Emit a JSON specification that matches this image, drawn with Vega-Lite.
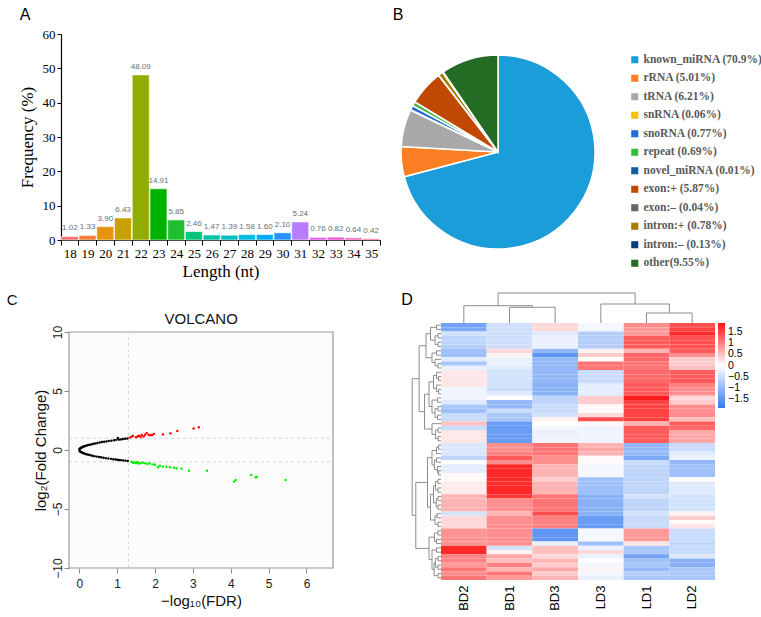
{
  "$schema": "https://vega.github.io/schema/vega-lite/v6.json",
  "width": 761,
  "height": 617,
  "autosize": "none",
  "padding": 0,
  "background": "white",
  "config": {"view": {"stroke": null}, "axis": {"grid": false, "labelFlush": false}},
  "datasets": {
    "lengths": [
      {"len": "18", "freq": 1.02}, {"len": "19", "freq": 1.33}, {"len": "20", "freq": 3.90},
      {"len": "21", "freq": 6.43}, {"len": "22", "freq": 48.09}, {"len": "23", "freq": 14.91},
      {"len": "24", "freq": 5.85}, {"len": "25", "freq": 2.46}, {"len": "26", "freq": 1.47},
      {"len": "27", "freq": 1.39}, {"len": "28", "freq": 1.58}, {"len": "29", "freq": 1.60},
      {"len": "30", "freq": 2.10}, {"len": "31", "freq": 5.24}, {"len": "32", "freq": 0.76},
      {"len": "33", "freq": 0.82}, {"len": "34", "freq": 0.64}, {"len": "35", "freq": 0.42}
    ],
    "volcano": [
      {"fdr": 0.005, "lfc": 0.06, "g": "n"}, {"fdr": 0.02, "lfc": 0.12, "g": "n"}, {"fdr": 0.04, "lfc": 0.17, "g": "n"},
      {"fdr": 0.06, "lfc": 0.21, "g": "n"}, {"fdr": 0.08, "lfc": 0.24, "g": "n"}, {"fdr": 0.1, "lfc": 0.27, "g": "n"},
      {"fdr": 0.13, "lfc": 0.31, "g": "n"}, {"fdr": 0.16, "lfc": 0.34, "g": "n"}, {"fdr": 0.2, "lfc": 0.38, "g": "n"},
      {"fdr": 0.24, "lfc": 0.42, "g": "n"}, {"fdr": 0.28, "lfc": 0.45, "g": "n"}, {"fdr": 0.33, "lfc": 0.49, "g": "n"},
      {"fdr": 0.38, "lfc": 0.53, "g": "n"}, {"fdr": 0.43, "lfc": 0.56, "g": "n"}, {"fdr": 0.48, "lfc": 0.6, "g": "n"},
      {"fdr": 0.54, "lfc": 0.63, "g": "n"}, {"fdr": 0.6, "lfc": 0.67, "g": "n"}, {"fdr": 0.66, "lfc": 0.7, "g": "n"},
      {"fdr": 0.72, "lfc": 0.73, "g": "n"}, {"fdr": 0.78, "lfc": 0.76, "g": "n"}, {"fdr": 0.85, "lfc": 0.79, "g": "n"},
      {"fdr": 0.92, "lfc": 0.83, "g": "n"}, {"fdr": 0.98, "lfc": 0.86, "g": "n"}, {"fdr": 1.02, "lfc": 1.02, "g": "n"},
      {"fdr": 1.05, "lfc": 0.88, "g": "n"}, {"fdr": 1.1, "lfc": 0.9, "g": "n"}, {"fdr": 1.15, "lfc": 0.93, "g": "n"},
      {"fdr": 1.21, "lfc": 0.95, "g": "n"}, {"fdr": 1.27, "lfc": 0.98, "g": "n"},
      {"fdr": 0.01, "lfc": -0.08, "g": "n"}, {"fdr": 0.03, "lfc": -0.14, "g": "n"}, {"fdr": 0.05, "lfc": -0.18, "g": "n"},
      {"fdr": 0.07, "lfc": -0.22, "g": "n"}, {"fdr": 0.1, "lfc": -0.26, "g": "n"}, {"fdr": 0.13, "lfc": -0.3, "g": "n"},
      {"fdr": 0.17, "lfc": -0.34, "g": "n"}, {"fdr": 0.21, "lfc": -0.38, "g": "n"}, {"fdr": 0.25, "lfc": -0.41, "g": "n"},
      {"fdr": 0.3, "lfc": -0.45, "g": "n"}, {"fdr": 0.35, "lfc": -0.49, "g": "n"}, {"fdr": 0.4, "lfc": -0.52, "g": "n"},
      {"fdr": 0.46, "lfc": -0.56, "g": "n"}, {"fdr": 0.52, "lfc": -0.59, "g": "n"}, {"fdr": 0.58, "lfc": -0.62, "g": "n"},
      {"fdr": 0.64, "lfc": -0.66, "g": "n"}, {"fdr": 0.7, "lfc": -0.69, "g": "n"}, {"fdr": 0.77, "lfc": -0.72, "g": "n"},
      {"fdr": 0.84, "lfc": -0.75, "g": "n"}, {"fdr": 0.9, "lfc": -0.78, "g": "n"}, {"fdr": 0.96, "lfc": -0.8, "g": "n"},
      {"fdr": 1.0, "lfc": -0.82, "g": "n"}, {"fdr": 1.05, "lfc": -0.84, "g": "n"}, {"fdr": 1.1, "lfc": -0.86, "g": "n"},
      {"fdr": 1.16, "lfc": -0.88, "g": "n"}, {"fdr": 1.22, "lfc": -0.9, "g": "n"}, {"fdr": 1.28, "lfc": -0.93, "g": "n"},
      {"fdr": 1.33, "lfc": 1.05, "g": "u"}, {"fdr": 1.38, "lfc": 1.12, "g": "u"}, {"fdr": 1.42, "lfc": 1.18, "g": "u"},
      {"fdr": 1.5, "lfc": 1.08, "g": "u"}, {"fdr": 1.55, "lfc": 1.16, "g": "u"}, {"fdr": 1.58, "lfc": 1.22, "g": "u"},
      {"fdr": 1.62, "lfc": 1.1, "g": "u"}, {"fdr": 1.65, "lfc": 1.27, "g": "u"}, {"fdr": 1.7, "lfc": 1.15, "g": "u"},
      {"fdr": 1.74, "lfc": 1.3, "g": "u"}, {"fdr": 1.78, "lfc": 1.45, "g": "u"}, {"fdr": 1.83, "lfc": 1.3, "g": "u"},
      {"fdr": 1.88, "lfc": 1.24, "g": "u"}, {"fdr": 1.92, "lfc": 1.28, "g": "u"}, {"fdr": 1.97, "lfc": 1.36, "g": "u"},
      {"fdr": 2.21, "lfc": 1.32, "g": "u"}, {"fdr": 2.41, "lfc": 1.41, "g": "u"}, {"fdr": 2.59, "lfc": 1.61, "g": "u"},
      {"fdr": 3.02, "lfc": 1.83, "g": "u"}, {"fdr": 3.16, "lfc": 1.92, "g": "u"},
      {"fdr": 1.38, "lfc": -1.0, "g": "d"}, {"fdr": 1.42, "lfc": -1.08, "g": "d"}, {"fdr": 1.46, "lfc": -1.05, "g": "d"},
      {"fdr": 1.5, "lfc": -1.12, "g": "d"}, {"fdr": 1.54, "lfc": -1.02, "g": "d"}, {"fdr": 1.58, "lfc": -1.15, "g": "d"},
      {"fdr": 1.62, "lfc": -1.1, "g": "d"}, {"fdr": 1.68, "lfc": -1.07, "g": "d"}, {"fdr": 1.74, "lfc": -1.13, "g": "d"},
      {"fdr": 1.8, "lfc": -1.18, "g": "d"}, {"fdr": 1.86, "lfc": -1.12, "g": "d"}, {"fdr": 1.94, "lfc": -1.22, "g": "d"},
      {"fdr": 2.0, "lfc": -1.25, "g": "d"}, {"fdr": 2.08, "lfc": -1.46, "g": "d"}, {"fdr": 2.13, "lfc": -1.33, "g": "d"},
      {"fdr": 2.21, "lfc": -1.41, "g": "d"}, {"fdr": 2.3, "lfc": -1.42, "g": "d"}, {"fdr": 2.39, "lfc": -1.46, "g": "d"},
      {"fdr": 2.5, "lfc": -1.5, "g": "d"}, {"fdr": 2.57, "lfc": -1.55, "g": "d"}, {"fdr": 2.7, "lfc": -1.58, "g": "d"},
      {"fdr": 2.9, "lfc": -1.75, "g": "d"}, {"fdr": 3.37, "lfc": -1.75, "g": "d"}, {"fdr": 4.09, "lfc": -2.68, "g": "d"},
      {"fdr": 4.13, "lfc": -2.54, "g": "d"}, {"fdr": 4.54, "lfc": -2.11, "g": "d"}, {"fdr": 4.66, "lfc": -2.31, "g": "d"},
      {"fdr": 4.69, "lfc": -2.28, "g": "d"}, {"fdr": 5.45, "lfc": -2.54, "g": "d"}
    ]
  },
  "resolve": {
    "scale": {"x": "independent", "y": "independent", "color": "independent", "theta": "independent"},
    "axis": {"x": "independent", "y": "independent"},
    "legend": {"color": "independent"}
  },
  "layer": [
    {
      "data": {"name": "lengths"},
      "mark": {"type": "bar", "stroke": "white", "strokeWidth": 0.6},
      "encoding": {
        "x": {
          "field": "len", "type": "ordinal",
          "scale": {"range": [61, 380], "paddingInner": 0.04, "paddingOuter": 0.02},
          "axis": {
            "orient": "bottom", "offset": -377, "title": "Length (nt)", "labelAngle": 0,
            "tickBand": "extent", "tickSize": 5, "tickColor": "black", "domainColor": "black", "domainWidth": 1.2,
            "labelFont": "Liberation Serif", "labelFontSize": 13, "labelColor": "black", "labelPadding": 2,
            "titleFont": "Liberation Serif", "titleFontSize": 17, "titleFontWeight": "normal", "titleColor": "black", "titlePadding": 3
          }
        },
        "y": {
          "field": "freq", "type": "quantitative",
          "scale": {"domain": [0, 60], "range": [240, 34], "nice": false},
          "axis": {
            "orient": "left", "offset": -61, "values": [0, 10, 20, 30, 40, 50, 60], "title": "Frequency (%)",
            "tickSize": 4, "tickColor": "black", "domainColor": "black", "domainWidth": 1.2,
            "labelFont": "Liberation Serif", "labelFontSize": 13, "labelColor": "black", "labelPadding": 2,
            "titleFont": "Liberation Serif", "titleFontSize": 17, "titleFontWeight": "normal", "titleColor": "black", "titlePadding": 6
          }
        },
        "color": {
          "field": "len", "type": "nominal", "legend": null,
          "scale": {
            "domain": ["18","19","20","21","22","23","24","25","26","27","28","29","30","31","32","33","34","35"],
            "range": ["#f46f6f","#f07f33","#e8930e","#c6a100","#8fad00","#00b200","#1ebf31","#00c47c","#00c3a2","#00bfc2","#00bbe0","#00aef5","#2590ff","#b87cff","#df58f3","#ef52d8","#f463bb","#ff6d9a"]
          }
        }
      }
    },
    {
      "data": {"name": "lengths"},
      "mark": {"type": "text", "baseline": "bottom", "dy": -4, "font": "Liberation Sans", "fontSize": 8, "color": "#66707a"},
      "encoding": {
        "x": {"field": "len", "type": "ordinal", "axis": null, "scale": {"range": [61, 380], "paddingInner": 0.04, "paddingOuter": 0.02}},
        "y": {"field": "freq", "type": "quantitative", "axis": null, "scale": {"domain": [0, 60], "range": [240, 34], "nice": false}},
        "text": {"field": "freq", "type": "quantitative", "format": ".2f"}
      }
    },
    {
      "data": {"values": [{"p": "A"}]},
      "mark": {"type": "text", "font": "Liberation Sans", "fontSize": 16},
      "encoding": {
        "x": {"datum": -2.03, "type": "quantitative", "axis": null, "scale": {"domain": [0, 18], "range": [61, 380], "nice": false, "zero": false}},
        "y": {"datum": 65.5, "type": "quantitative", "axis": null, "scale": {"domain": [0, 60], "range": [240, 34], "nice": false}},
        "text": {"field": "p"}
      }
    },
    {
      "data": {"values": [
        {"cat": "known_miRNA (70.9%)", "v": 70.9, "i": 1},
        {"cat": "rRNA (5.01%)", "v": 5.01, "i": 2},
        {"cat": "tRNA (6.21%)", "v": 6.21, "i": 3},
        {"cat": "snRNA (0.06%)", "v": 0.06, "i": 4},
        {"cat": "snoRNA (0.77%)", "v": 0.77, "i": 5},
        {"cat": "repeat (0.69%)", "v": 0.69, "i": 6},
        {"cat": "novel_miRNA (0.01%)", "v": 0.01, "i": 7},
        {"cat": "exon:+ (5.87%)", "v": 5.87, "i": 8},
        {"cat": "exon:– (0.04%)", "v": 0.04, "i": 9},
        {"cat": "intron:+ (0.78%)", "v": 0.78, "i": 10},
        {"cat": "intron:– (0.13%)", "v": 0.13, "i": 11},
        {"cat": "other(9.55%)", "v": 9.55, "i": 12}
      ]},
      "mark": {"type": "arc", "outerRadius": 97, "stroke": "white", "strokeWidth": 1.5},
      "encoding": {
        "theta": {"field": "v", "type": "quantitative", "stack": true},
        "order": {"field": "i", "type": "quantitative"},
        "x": {"datum": 0, "type": "quantitative", "scale": {"domain": [-1, 1], "range": [401, 595], "nice": false}, "axis": null},
        "y": {"datum": 0, "type": "quantitative", "scale": {"domain": [-1, 1], "range": [249, 55], "nice": false}, "axis": null},
        "color": {
          "field": "cat", "type": "nominal",
          "scale": {
            "domain": ["known_miRNA (70.9%)","rRNA (5.01%)","tRNA (6.21%)","snRNA (0.06%)","snoRNA (0.77%)","repeat (0.69%)","novel_miRNA (0.01%)","exon:+ (5.87%)","exon:– (0.04%)","intron:+ (0.78%)","intron:– (0.13%)","other(9.55%)"],
            "range": ["#1b9dd9","#fd7f25","#a9a9a9","#fdc000","#1f70d2","#3cb83c","#0c5f9e","#c04800","#676767","#a47b00","#0b3d7e","#246b24"]
          },
          "legend": {
            "orient": "none", "legendX": 629, "legendY": 54, "title": null, "padding": 0,
            "symbolType": "square", "symbolSize": 50, "symbolStrokeWidth": 0,
            "labelFont": "Liberation Serif", "labelFontWeight": "bold", "labelFontSize": 11.5, "labelColor": "#595959",
            "labelOffset": 3, "rowPadding": 5.5, "labelLimit": 250
          }
        }
      }
    },
    {
      "data": {"values": [{"p": "B"}]},
      "mark": {"type": "text", "font": "Liberation Sans", "fontSize": 16},
      "encoding": {
        "x": {"datum": -1.03, "type": "quantitative", "axis": null, "scale": {"domain": [-1, 1], "range": [401, 595], "nice": false}},
        "y": {"datum": 1.41, "type": "quantitative", "axis": null, "scale": {"domain": [-1, 1], "range": [249, 55], "nice": false}},
        "text": {"field": "p"}
      }
    },
    {
      "data": {"values": [{}]},
      "mark": {"type": "rect", "fill": "#fcfcfc", "stroke": "#9a9a9a", "strokeWidth": 1.2},
      "encoding": {
        "x": {"datum": -0.27, "type": "quantitative", "axis": null, "scale": {"domain": [-0.27, 6.7], "range": [69, 333], "nice": false, "zero": false}},
        "x2": {"datum": 6.7},
        "y": {"datum": -10, "type": "quantitative", "axis": null, "scale": {"domain": [-10, 10], "range": [568, 332], "nice": false, "zero": false}},
        "y2": {"datum": 10}
      }
    },
    {
      "data": {"values": [{}]},
      "mark": {"type": "rule", "color": "#cccccc", "strokeDash": [3, 3], "strokeWidth": 0.8},
      "encoding": {
        "x": {"datum": 1.3, "type": "quantitative", "axis": null, "scale": {"domain": [-0.27, 6.7], "range": [69, 333], "nice": false, "zero": false}},
        "y": {"datum": -10, "type": "quantitative", "axis": null, "scale": {"domain": [-10, 10], "range": [568, 332], "nice": false, "zero": false}},
        "y2": {"datum": 10}
      }
    },
    {
      "data": {"values": [{"h": 1}, {"h": -1}]},
      "mark": {"type": "rule", "color": "#cccccc", "strokeDash": [3, 3], "strokeWidth": 0.8},
      "encoding": {
        "x": {"datum": -0.27, "type": "quantitative", "axis": null, "scale": {"domain": [-0.27, 6.7], "range": [69, 333], "nice": false, "zero": false}},
        "x2": {"datum": 6.7},
        "y": {"field": "h", "type": "quantitative", "axis": null, "scale": {"domain": [-10, 10], "range": [568, 332], "nice": false, "zero": false}}
      }
    },
    {
      "data": {"name": "volcano"},
      "mark": {"type": "circle", "size": 6, "opacity": 1},
      "encoding": {
        "x": {
          "field": "fdr", "type": "quantitative",
          "scale": {"domain": [-0.27, 6.7], "range": [69, 333], "nice": false, "zero": false},
          "axis": {
            "orient": "bottom", "offset": -49, "values": [0, 1, 2, 3, 4, 5, 6], "domain": false,
            "tickColor": "#888888", "tickSize": 5, "labelFont": "Liberation Sans", "labelFontSize": 12, "labelColor": "#222222", "labelPadding": 5,
            "title": "−log₁₀(FDR)", "titleFont": "Liberation Sans", "titleFontSize": 15, "titleFontWeight": "normal", "titleColor": "#111111", "titlePadding": 4
          }
        },
        "y": {
          "field": "lfc", "type": "quantitative",
          "scale": {"domain": [-10, 10], "range": [568, 332], "nice": false, "zero": false},
          "axis": {
            "orient": "left", "offset": -69, "values": [-10, -5, 0, 5, 10], "domain": false,
            "tickColor": "#888888", "tickSize": 5, "labelFont": "Liberation Sans", "labelFontSize": 12, "labelColor": "#222222",
            "labelAngle": -90, "labelAlign": "center", "labelBaseline": "bottom", "labelPadding": 0,
            "title": "log₂(Fold Change)", "titleFont": "Liberation Sans", "titleFontSize": 15, "titleFontWeight": "normal", "titleColor": "#111111", "titlePadding": 3
          }
        },
        "color": {"field": "g", "type": "nominal", "legend": null, "scale": {"domain": ["n", "u", "d"], "range": ["#000000", "#ff0000", "#00ee00"]}}
      }
    },
    {
      "data": {"values": [{"t": "VOLCANO", "x": 3.22, "y": 11.1}, {"t": "C", "x": -1.77, "y": 12.7}]},
      "mark": {"type": "text", "font": "Liberation Sans", "fontSize": 15, "color": "#111111"},
      "encoding": {
        "x": {"field": "x", "type": "quantitative", "axis": null, "scale": {"domain": [-0.27, 6.7], "range": [69, 333], "nice": false, "zero": false}},
        "y": {"field": "y", "type": "quantitative", "axis": null, "scale": {"domain": [-10, 10], "range": [568, 332], "nice": false, "zero": false}},
        "text": {"field": "t"}
      }
    },
    {
      "data": {"values": [
        {"a": 1.5, "ha": 0, "b": 2.5, "hb": 0, "H": 15.7},
        {"a": 0.5, "ha": 0, "b": 2.0, "hb": 15.7, "H": 17.3},
        {"a": 4.5, "ha": 0, "b": 5.5, "hb": 0, "H": 10},
        {"a": 3.5, "ha": 0, "b": 5.0, "hb": 10, "H": 19},
        {"a": 1.25, "ha": 17.3, "b": 4.25, "hb": 19, "H": 30}
      ]},
      "layer": [
        {
          "mark": {"type": "rule", "color": "#8c8c8c", "strokeWidth": 1},
          "encoding": {
            "x": {"field": "a", "type": "quantitative", "axis": null, "scale": {"domain": [0, 6], "range": [441, 715], "nice": false, "zero": false}},
            "y": {"field": "ha", "type": "quantitative", "axis": null, "scale": {"domain": [0, 30], "range": [323, 293], "nice": false, "zero": false}},
            "y2": {"field": "H"}
          }
        },
        {
          "mark": {"type": "rule", "color": "#8c8c8c", "strokeWidth": 1},
          "encoding": {
            "x": {"field": "b", "type": "quantitative", "axis": null},
            "y": {"field": "hb", "type": "quantitative", "axis": null},
            "y2": {"field": "H"}
          }
        },
        {
          "mark": {"type": "rule", "color": "#8c8c8c", "strokeWidth": 1},
          "encoding": {
            "x": {"field": "a", "type": "quantitative", "axis": null},
            "x2": {"field": "b"},
            "y": {"field": "H", "type": "quantitative", "axis": null}
          }
        },
        {
          "data": {"values": [{"p": "D"}]},
          "mark": {"type": "text", "font": "Liberation Sans", "fontSize": 16},
          "encoding": {
            "x": {"datum": -0.745, "type": "quantitative", "axis": null},
            "y": {"datum": 23, "type": "quantitative", "axis": null},
            "text": {"field": "p"}
          }
        }
      ]
    },
    {
      "data": {"values": [
        {"a": 0.5, "ha": 0, "b": 1.5, "hb": 0, "H": 1.5},
        {"a": 2.5, "ha": 0, "b": 3.5, "hb": 0, "H": 1},
        {"a": 4.5, "ha": 0, "b": 5.5, "hb": 0, "H": 1},
        {"a": 3.0, "ha": 1, "b": 5.0, "hb": 1, "H": 2},
        {"a": 1.0, "ha": 1.5, "b": 4.0, "hb": 2, "H": 3.5},
        {"a": 6.5, "ha": 0, "b": 7.5, "hb": 0, "H": 1.5},
        {"a": 9.5, "ha": 0, "b": 10.5, "hb": 0, "H": 1},
        {"a": 8.5, "ha": 0, "b": 10.0, "hb": 1, "H": 2},
        {"a": 7.0, "ha": 1.5, "b": 9.25, "hb": 2, "H": 3},
        {"a": 2.5, "ha": 3.5, "b": 8.125, "hb": 3, "H": 5},
        {"a": 12.5, "ha": 0, "b": 13.5, "hb": 0, "H": 0.8},
        {"a": 11.5, "ha": 0, "b": 13.0, "hb": 0.8, "H": 1.5},
        {"a": 15.5, "ha": 0, "b": 16.5, "hb": 0, "H": 0.8},
        {"a": 14.5, "ha": 0, "b": 16.0, "hb": 0.8, "H": 1.5},
        {"a": 12.25, "ha": 1.5, "b": 15.25, "hb": 1.5, "H": 2.5},
        {"a": 17.5, "ha": 0, "b": 18.5, "hb": 0, "H": 1.2},
        {"a": 19.5, "ha": 0, "b": 20.5, "hb": 0, "H": 1},
        {"a": 21.5, "ha": 0, "b": 22.5, "hb": 0, "H": 1.2},
        {"a": 20.0, "ha": 1, "b": 22.0, "hb": 1.2, "H": 2},
        {"a": 18.0, "ha": 1.2, "b": 21.0, "hb": 2, "H": 3},
        {"a": 13.75, "ha": 2.5, "b": 19.5, "hb": 3, "H": 4},
        {"a": 24.5, "ha": 0, "b": 25.5, "hb": 0, "H": 1},
        {"a": 26.5, "ha": 0, "b": 27.5, "hb": 0, "H": 1},
        {"a": 25.0, "ha": 1, "b": 27.0, "hb": 1, "H": 1.8},
        {"a": 23.5, "ha": 0, "b": 26.0, "hb": 1.8, "H": 3},
        {"a": 16.625, "ha": 4, "b": 24.75, "hb": 3, "H": 5.5},
        {"a": 5.3125, "ha": 5, "b": 20.6875, "hb": 5.5, "H": 7.3},
        {"a": 28.5, "ha": 0, "b": 29.5, "hb": 0, "H": 0.8},
        {"a": 29.0, "ha": 0.8, "b": 30.5, "hb": 0, "H": 1.5},
        {"a": 31.5, "ha": 0, "b": 32.5, "hb": 0, "H": 1.5},
        {"a": 34.5, "ha": 0, "b": 35.5, "hb": 0, "H": 0.8},
        {"a": 33.5, "ha": 0, "b": 35.0, "hb": 0.8, "H": 1.2},
        {"a": 32.0, "ha": 1.5, "b": 34.25, "hb": 1.2, "H": 2.2},
        {"a": 29.75, "ha": 1.5, "b": 33.125, "hb": 2.2, "H": 3},
        {"a": 36.5, "ha": 0, "b": 37.5, "hb": 0, "H": 1},
        {"a": 38.5, "ha": 0, "b": 39.5, "hb": 0, "H": 1},
        {"a": 37.0, "ha": 1, "b": 39.0, "hb": 1, "H": 1.8},
        {"a": 40.5, "ha": 0, "b": 41.5, "hb": 0, "H": 1},
        {"a": 42.5, "ha": 0, "b": 43.5, "hb": 0, "H": 1},
        {"a": 41.0, "ha": 1, "b": 43.0, "hb": 1, "H": 1.6},
        {"a": 38.0, "ha": 1.8, "b": 42.0, "hb": 1.6, "H": 2.5},
        {"a": 44.5, "ha": 0, "b": 45.5, "hb": 0, "H": 1.3},
        {"a": 46.5, "ha": 0, "b": 47.5, "hb": 0, "H": 1},
        {"a": 45.0, "ha": 1.3, "b": 47.0, "hb": 1, "H": 2},
        {"a": 40.0, "ha": 2.5, "b": 46.0, "hb": 2, "H": 3.5},
        {"a": 31.4375, "ha": 3, "b": 43.0, "hb": 3.5, "H": 4.5},
        {"a": 48.5, "ha": 0, "b": 49.5, "hb": 0, "H": 1},
        {"a": 50.5, "ha": 0, "b": 51.5, "hb": 0, "H": 1.5},
        {"a": 49.0, "ha": 1, "b": 51.0, "hb": 1.5, "H": 2.2},
        {"a": 52.5, "ha": 0, "b": 53.5, "hb": 0, "H": 1.5},
        {"a": 54.5, "ha": 0, "b": 55.5, "hb": 0, "H": 1},
        {"a": 56.5, "ha": 0, "b": 57.5, "hb": 0, "H": 1},
        {"a": 55.0, "ha": 1, "b": 57.0, "hb": 1, "H": 1.8},
        {"a": 58.5, "ha": 0, "b": 59.5, "hb": 0, "H": 1},
        {"a": 56.0, "ha": 1.8, "b": 59.0, "hb": 1, "H": 2.3},
        {"a": 53.0, "ha": 1.5, "b": 57.5, "hb": 2.3, "H": 3},
        {"a": 50.0, "ha": 2.2, "b": 55.25, "hb": 3, "H": 4},
        {"a": 37.21875, "ha": 4.5, "b": 52.625, "hb": 4, "H": 8.4},
        {"a": 13.0, "ha": 7.3, "b": 44.921875, "hb": 8.4, "H": 9.6}
      ]},
      "layer": [
        {
          "mark": {"type": "rule", "color": "#8c8c8c", "strokeWidth": 1},
          "encoding": {
            "x": {"field": "H", "type": "quantitative", "axis": null, "scale": {"domain": [0, 10], "range": [441, 411], "nice": false, "zero": false}},
            "y": {"field": "a", "type": "quantitative", "axis": null, "scale": {"domain": [0, 60], "range": [323, 580], "nice": false, "zero": false}},
            "y2": {"field": "b"}
          }
        },
        {
          "mark": {"type": "rule", "color": "#8c8c8c", "strokeWidth": 1},
          "encoding": {
            "x": {"field": "ha", "type": "quantitative", "axis": null},
            "x2": {"field": "H"},
            "y": {"field": "a", "type": "quantitative", "axis": null}
          }
        },
        {
          "mark": {"type": "rule", "color": "#8c8c8c", "strokeWidth": 1},
          "encoding": {
            "x": {"field": "hb", "type": "quantitative", "axis": null},
            "x2": {"field": "H"},
            "y": {"field": "b", "type": "quantitative", "axis": null}
          }
        }
      ]
    },
    {
      "data": {"values": [
        {"r": 0, "BD2": -1.3, "BD1": -0.45, "BD3": 0.3, "LD3": -0.1, "LD1": 0.9, "LD2": 1.4},
        {"r": 1, "BD2": -1.2, "BD1": -0.45, "BD3": 0.3, "LD3": -0.1, "LD1": 0.8, "LD2": 1.5},
        {"r": 2, "BD2": -0.4, "BD1": -0.45, "BD3": -0.3, "LD3": -0.7, "LD1": 0.8, "LD2": 1.7},
        {"r": 3, "BD2": -0.6, "BD1": -0.45, "BD3": -0.2, "LD3": -0.7, "LD1": 1.3, "LD2": 1.4},
        {"r": 4, "BD2": -0.6, "BD1": -0.45, "BD3": -0.2, "LD3": -0.7, "LD1": 1.3, "LD2": 1.4},
        {"r": 5, "BD2": -0.7, "BD1": -0.45, "BD3": -0.2, "LD3": -0.7, "LD1": 1.3, "LD2": 1.4},
        {"r": 6, "BD2": -0.9, "BD1": 0.3, "BD3": -1.0, "LD3": 0.1, "LD1": 0.6, "LD2": 1.3},
        {"r": 7, "BD2": -0.9, "BD1": 0.1, "BD3": -1.5, "LD3": 0.4, "LD1": 1.2, "LD2": 0.9},
        {"r": 8, "BD2": -0.3, "BD1": -0.2, "BD3": -1.0, "LD3": 0.0, "LD1": 1.2, "LD2": 0.4},
        {"r": 9, "BD2": -0.8, "BD1": -0.2, "BD3": -1.0, "LD3": 1.1, "LD1": 1.1, "LD2": 0.4},
        {"r": 10, "BD2": -0.2, "BD1": -0.3, "BD3": -1.0, "LD3": 1.1, "LD1": 1.1, "LD2": 0.5},
        {"r": 11, "BD2": 0.2, "BD1": -0.4, "BD3": -1.0, "LD3": -0.5, "LD1": 1.2, "LD2": 1.3},
        {"r": 12, "BD2": 0.2, "BD1": -0.4, "BD3": -1.0, "LD3": -0.5, "LD1": 1.2, "LD2": 1.3},
        {"r": 13, "BD2": 0.2, "BD1": -0.4, "BD3": -1.0, "LD3": -0.5, "LD1": 1.2, "LD2": 1.3},
        {"r": 14, "BD2": 0.2, "BD1": -0.4, "BD3": -1.1, "LD3": -0.25, "LD1": 1.3, "LD2": 1.0},
        {"r": 15, "BD2": -0.15, "BD1": -0.5, "BD3": -1.1, "LD3": -0.25, "LD1": 1.3, "LD2": 0.9},
        {"r": 16, "BD2": -0.15, "BD1": -0.3, "BD3": -1.1, "LD3": -0.25, "LD1": 1.3, "LD2": 0.9},
        {"r": 17, "BD2": -0.15, "BD1": 0.0, "BD3": -0.6, "LD3": 0.4, "LD1": 1.8, "LD2": 0.3},
        {"r": 18, "BD2": -0.3, "BD1": -1.0, "BD3": -0.6, "LD3": 0.4, "LD1": 1.5, "LD2": 0.4},
        {"r": 19, "BD2": -0.8, "BD1": -1.0, "BD3": -0.5, "LD3": 0.05, "LD1": 1.5, "LD2": 0.9},
        {"r": 20, "BD2": -0.9, "BD1": -0.5, "BD3": -0.5, "LD3": 0.05, "LD1": 1.5, "LD2": 0.9},
        {"r": 21, "BD2": -0.5, "BD1": -0.8, "BD3": -0.4, "LD3": 0.3, "LD1": 1.5, "LD2": 0.9},
        {"r": 22, "BD2": -0.5, "BD1": -0.8, "BD3": 0.1, "LD3": 1.4, "LD1": 1.5, "LD2": 0.5},
        {"r": 23, "BD2": 0.5, "BD1": -1.4, "BD3": 0.0, "LD3": 0.05, "LD1": 0.6, "LD2": 1.3},
        {"r": 24, "BD2": -0.5, "BD1": -1.4, "BD3": -0.1, "LD3": -0.15, "LD1": 1.3, "LD2": 1.2},
        {"r": 25, "BD2": 0.2, "BD1": -1.4, "BD3": -0.2, "LD3": -0.15, "LD1": 1.3, "LD2": 0.7},
        {"r": 26, "BD2": 0.2, "BD1": -1.4, "BD3": -0.2, "LD3": -0.15, "LD1": 1.3, "LD2": 0.7},
        {"r": 27, "BD2": 0.2, "BD1": -1.4, "BD3": -0.15, "LD3": -0.15, "LD1": 1.3, "LD2": 0.7},
        {"r": 28, "BD2": -0.35, "BD1": 0.9, "BD3": 1.1, "LD3": 0.6, "LD1": -1.0, "LD2": -0.5},
        {"r": 29, "BD2": -0.35, "BD1": 0.9, "BD3": 1.1, "LD3": 0.7, "LD1": -1.0, "LD2": -0.5},
        {"r": 30, "BD2": -0.35, "BD1": 1.0, "BD3": 1.1, "LD3": 0.6, "LD1": -1.0, "LD2": -0.3},
        {"r": 31, "BD2": -0.6, "BD1": 1.3, "BD3": 0.9, "LD3": 0.05, "LD1": -1.2, "LD2": -0.2},
        {"r": 32, "BD2": 0.0, "BD1": 0.9, "BD3": 0.9, "LD3": 0.05, "LD1": -0.5, "LD2": -1.0},
        {"r": 33, "BD2": -0.25, "BD1": 1.7, "BD3": 0.6, "LD3": -0.1, "LD1": -0.6, "LD2": -0.9},
        {"r": 34, "BD2": -0.25, "BD1": 1.7, "BD3": 0.6, "LD3": -0.1, "LD1": -0.6, "LD2": -0.9},
        {"r": 35, "BD2": 0.05, "BD1": 1.7, "BD3": 0.6, "LD3": -0.1, "LD1": -0.6, "LD2": -0.9},
        {"r": 36, "BD2": 0.05, "BD1": 1.7, "BD3": 0.4, "LD3": -0.9, "LD1": -0.6, "LD2": 0.0},
        {"r": 37, "BD2": 0.15, "BD1": 1.7, "BD3": 0.6, "LD3": -0.9, "LD1": -0.6, "LD2": -0.3},
        {"r": 38, "BD2": 0.15, "BD1": 1.7, "BD3": 0.6, "LD3": -0.9, "LD1": -0.6, "LD2": -0.3},
        {"r": 39, "BD2": 0.15, "BD1": 1.7, "BD3": 0.6, "LD3": -0.9, "LD1": -0.6, "LD2": -0.3},
        {"r": 40, "BD2": 0.6, "BD1": 1.6, "BD3": 1.1, "LD3": -1.1, "LD1": -0.4, "LD2": -0.4},
        {"r": 41, "BD2": 0.6, "BD1": 0.9, "BD3": 1.1, "LD3": -1.1, "LD1": -0.6, "LD2": -0.4},
        {"r": 42, "BD2": 0.6, "BD1": 0.9, "BD3": 1.1, "LD3": -1.1, "LD1": -0.6, "LD2": -0.4},
        {"r": 43, "BD2": 0.6, "BD1": 0.9, "BD3": 1.1, "LD3": -1.1, "LD1": -0.6, "LD2": -0.4},
        {"r": 44, "BD2": -0.4, "BD1": 0.6, "BD3": 1.4, "LD3": -1.1, "LD1": -0.4, "LD2": 0.1},
        {"r": 45, "BD2": 0.3, "BD1": 0.9, "BD3": 1.0, "LD3": -1.4, "LD1": -0.5, "LD2": 0.4},
        {"r": 46, "BD2": 0.3, "BD1": 0.9, "BD3": 1.0, "LD3": -1.4, "LD1": -0.5, "LD2": 0.05},
        {"r": 47, "BD2": 0.3, "BD1": 0.9, "BD3": 1.0, "LD3": -1.4, "LD1": -0.5, "LD2": 0.2},
        {"r": 48, "BD2": 0.85, "BD1": 0.9, "BD3": -1.5, "LD3": -0.1, "LD1": 0.8, "LD2": -0.5},
        {"r": 49, "BD2": 0.85, "BD1": 0.9, "BD3": -1.5, "LD3": -0.1, "LD1": 0.8, "LD2": -0.5},
        {"r": 50, "BD2": 0.85, "BD1": 0.9, "BD3": -1.5, "LD3": -0.1, "LD1": 0.8, "LD2": -0.5},
        {"r": 51, "BD2": 0.85, "BD1": 0.9, "BD3": -0.2, "LD3": -0.9, "LD1": 0.2, "LD2": -0.6},
        {"r": 52, "BD2": 1.7, "BD1": -0.4, "BD3": 0.5, "LD3": -0.2, "LD1": -0.8, "LD2": -0.5},
        {"r": 53, "BD2": 1.7, "BD1": 0.1, "BD3": 0.5, "LD3": 0.3, "LD1": -0.8, "LD2": -0.5},
        {"r": 54, "BD2": 1.0, "BD1": 0.7, "BD3": 0.3, "LD3": -0.2, "LD1": -1.3, "LD2": -0.3},
        {"r": 55, "BD2": 1.0, "BD1": 0.5, "BD3": 0.6, "LD3": 0.0, "LD1": -0.9, "LD2": -1.1},
        {"r": 56, "BD2": 0.8, "BD1": 1.0, "BD3": 0.4, "LD3": -0.1, "LD1": -0.8, "LD2": -1.1},
        {"r": 57, "BD2": 1.1, "BD1": 0.6, "BD3": 0.7, "LD3": 0.1, "LD1": -1.0, "LD2": -0.8},
        {"r": 58, "BD2": 0.9, "BD1": 1.1, "BD3": 0.4, "LD3": -0.1, "LD1": -0.7, "LD2": -0.8},
        {"r": 59, "BD2": 1.1, "BD1": 0.8, "BD3": 0.6, "LD3": -0.2, "LD1": -0.8, "LD2": -0.8}
      ]},
      "transform": [{"fold": ["BD2", "BD1", "BD3", "LD3", "LD1", "LD2"], "as": ["sample", "z"]}],
      "mark": {"type": "rect"},
      "encoding": {
        "x": {
          "field": "sample", "type": "nominal", "sort": ["BD2", "BD1", "BD3", "LD3", "LD1", "LD2"],
          "scale": {"range": [441, 715], "paddingInner": 0, "paddingOuter": 0},
          "axis": {
            "orient": "bottom", "offset": -37, "title": null, "domain": false, "ticks": false,
            "labelAngle": -90, "labelAlign": "right", "labelBaseline": "middle", "labelPadding": 5,
            "labelFont": "Liberation Sans", "labelFontSize": 13, "labelColor": "black"
          }
        },
        "y": {"field": "r", "type": "ordinal", "scale": {"range": [323, 580], "paddingInner": 0, "paddingOuter": 0}, "axis": null},
        "color": {
          "field": "z", "type": "quantitative",
          "scale": {"domain": [-1.9, 0, 1.9], "range": ["#3479f0", "#ffffff", "#ff1010"], "interpolate": "rgb"},
          "legend": {
            "orient": "none", "legendX": 718, "legendY": 323, "direction": "vertical", "title": null, "padding": 0,
            "gradientLength": 85, "gradientThickness": 7, "gradientStrokeWidth": 0,
            "values": [1.5, 1, 0.5, 0, -0.5, -1, -1.5], "format": ".2~g", "labelOverlap": false,
            "labelFont": "Liberation Sans", "labelFontSize": 10.5, "labelColor": "black", "labelOffset": 3
          }
        }
      }
    }
  ]
}
